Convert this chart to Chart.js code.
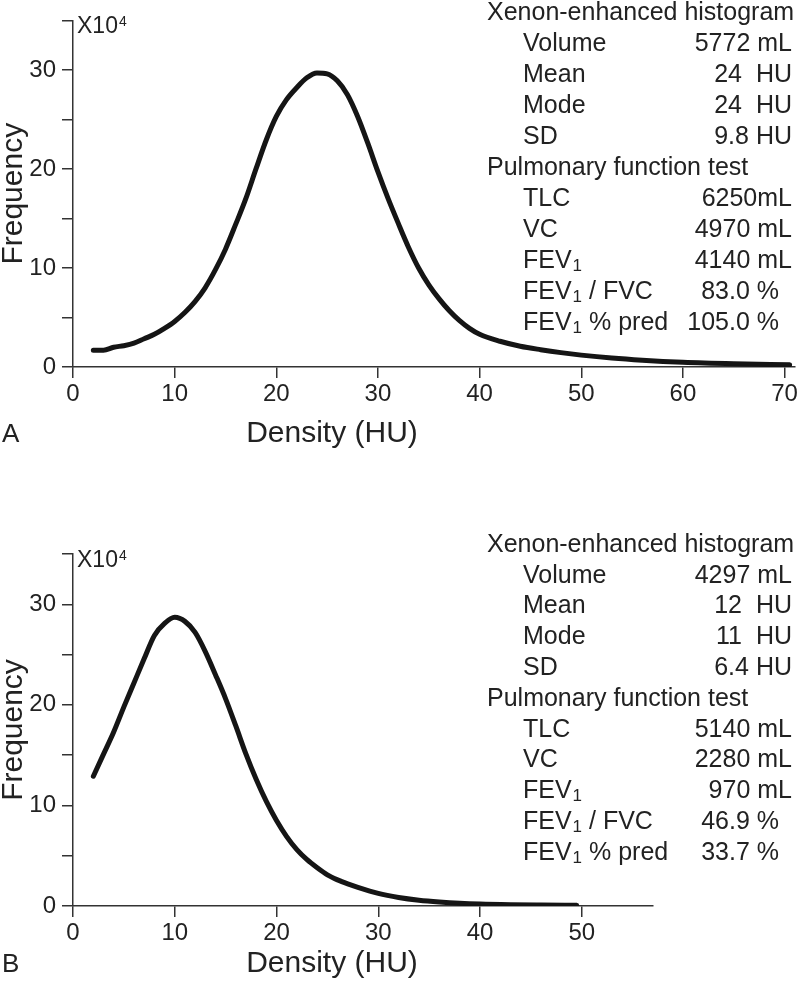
<!DOCTYPE html>
<html>
<head>
<meta charset="utf-8">
<script src="https://cdn.jsdelivr.net/npm/chart.js@4"></script>
<style>
  html, body { margin: 0; padding: 0; background: #fff; }
  #wrap { position: relative; width: 800px; height: 985px; }
  canvas { position: absolute; left: 0; }
</style>
</head>
<body>
<div id="wrap">
  <canvas id="chartA" width="800" height="490" style="top:0"></canvas>
  <canvas id="chartB" width="800" height="495" style="top:490px"></canvas>
</div>
<script>
// Xenon-enhanced CT density histograms, panels A and B

const densityA = [2, 3, 4, 5, 6, 7, 8, 9, 10, 11, 12, 13, 14, 15, 16, 17, 18, 19, 20,
  21, 22, 23, 24, 25, 26, 27, 28, 29, 30, 31, 32, 33, 34, 35, 36, 37, 38, 39, 40,
  42, 44, 46, 48, 50, 53, 56, 60, 65, 70.5];
const frequencyA = [1.7, 1.7, 2.0, 2.15, 2.4, 2.85, 3.3, 3.9, 4.6, 5.5, 6.6, 8.0, 9.8, 11.9,
  14.4, 17.0, 20.0, 22.9, 25.3, 27.0, 28.2, 29.2, 29.7, 29.6, 28.9, 27.5, 25.3, 22.6,
  19.7, 17.0, 14.5, 12.1, 10.0, 8.3, 6.9, 5.7, 4.7, 3.9, 3.3, 2.6, 2.1, 1.75, 1.45,
  1.2, 0.9, 0.68, 0.47, 0.32, 0.22];

const densityB = [2, 3, 4, 5, 6, 7, 8, 9, 10, 11, 12, 13, 14, 15, 16, 17, 18, 19, 20,
  21, 22, 23, 24, 25, 26, 27, 28, 30, 32, 34, 36, 38, 40, 43, 46, 49.5];
const frequencyB = [12.9, 15.1, 17.3, 19.8, 22.2, 24.6, 26.9, 28.1, 28.7, 28.3, 27.2, 25.3,
  23.0, 20.6, 17.9, 15.1, 12.6, 10.4, 8.5, 6.9, 5.6, 4.6, 3.8, 3.1, 2.6, 2.2, 1.85,
  1.25, 0.85, 0.58, 0.4, 0.27, 0.19, 0.13, 0.1, 0.08];

const histogramTitle = 'Xenon-enhanced histogram';
const histogramLabels = ['Volume', 'Mean', 'Mode', 'SD'];
const histogramValuesA = ['5772 mL', '24  HU', '24  HU', '9.8 HU'];
const histogramValuesB = ['4297 mL', '12  HU', '11  HU', '6.4 HU'];

const pftTitle = 'Pulmonary function test';
const pftLabels = ['TLC', 'VC', 'FEV_1', 'FEV_1 / FVC', 'FEV_1 % pred'];
const pftValuesA = ['6250mL', '4970 mL', '4140 mL', '83.0 %', '105.0 %'];
const pftValuesB = ['5140 mL', '2280 mL', '970 mL', '46.9 %', '33.7 %'];

const xTitle = 'Density (HU)';
const yTitle = 'Frequency';
const xMaxA = 71;
const xMaxB = 57;
const yMax = 35;

const FONT = "'Liberation Sans', Arial, Helvetica, sans-serif";
const INK = '#222';

Chart.defaults.font.family = FONT;
Chart.defaults.color = INK;

// draws "FEV_1" style text with a subscript digit
function drawRich(ctx, text, x, y, size) {
  const parts = text.split('_');
  let cx = x;
  parts.forEach((part, i) => {
    let body = part;
    if (i > 0) {
      const sub = part.charAt(0);
      body = part.slice(1);
      ctx.font = `${Math.round(size * 0.66)}px ${FONT}`;
      ctx.fillText(sub, cx + 1, y + size * 0.2);
      cx += ctx.measureText(sub).width + 1;
    }
    ctx.font = `${size}px ${FONT}`;
    ctx.fillText(body, cx, y);
    cx += ctx.measureText(body).width;
  });
}

const panelText = {
  id: 'panelText',
  afterDatasetsDraw(chart, args, opts) {
    const { ctx, chartArea } = chart;
    ctx.save();
    ctx.fillStyle = INK;
    ctx.textAlign = 'left';

    // axis multiplier
    ctx.textBaseline = 'alphabetic';
    ctx.font = `23px ${FONT}`;
    const ex = chartArea.left + 4;
    const ey = chartArea.top + 13;
    ctx.fillText('X10', ex, ey);
    const w = ctx.measureText('X10').width;
    ctx.font = `14px ${FONT}`;
    ctx.fillText('4', ex + w + 1, ey - 7);

    // panel letter and x-axis title (title sits left of the axis centre)
    ctx.textBaseline = 'middle';
    ctx.font = `26px ${FONT}`;
    ctx.fillText(opts.letter, 2, opts.letterY);
    ctx.textAlign = 'center';
    ctx.font = `30px ${FONT}`;
    ctx.fillText(xTitle, 332, opts.letterY - 1);

    // statistics table
    const size = 25;
    let row = 0;
    const rowY = () => opts.top + row * opts.step;
    const drawBlock = (title, labels, values) => {
      ctx.textAlign = 'left';
      ctx.font = `${size}px ${FONT}`;
      ctx.fillText(title, 487, rowY());
      row += 1;
      labels.forEach((label, i) => {
        ctx.textAlign = 'left';
        drawRich(ctx, label, 523, rowY(), size);
        ctx.textAlign = 'right';
        ctx.font = `${size}px ${FONT}`;
        const right = values[i].endsWith('%') ? 779 : 792;
        ctx.fillText(values[i], right, rowY());
        row += 1;
      });
    };
    drawBlock(histogramTitle, histogramLabels, opts.histValues);
    drawBlock(pftTitle, pftLabels, opts.pftValues);
    ctx.restore();
  },
};

function makeChart(id, xs, ys, xMax, cfg) {
  const canvas = document.getElementById(id);
  const points = xs.map((x, i) => ({ x, y: ys[i] }));
  return new Chart(canvas.getContext('2d'), {
    type: 'line',
    data: {
      datasets: [{
        data: points,
        borderColor: '#151515',
        borderWidth: 5,
        borderCapStyle: 'round',
        pointRadius: 0,
        cubicInterpolationMode: 'monotone',
        fill: false,
      }],
    },
    options: {
      responsive: false,
      animation: false,
      devicePixelRatio: 1,
      layout: { padding: { top: cfg.padTop, right: cfg.padRight, left: 0, bottom: 0 } },
      plugins: {
        legend: { display: false },
        tooltip: { enabled: false },
        panelText: cfg.text,
      },
      scales: {
        x: {
          type: 'linear',
          min: 0,
          max: xMax,
          border: { display: true, color: '#333', width: 1.5 },
          grid: { drawOnChartArea: false, drawTicks: true, tickLength: 11, color: '#333', lineWidth: 1.5 },
          ticks: {
            stepSize: 10, includeBounds: false, padding: 2, maxRotation: 0,
            font: { size: 24 }, color: INK,
          },
          afterFit(scale) { scale.height = cfg.xHeight; },
        },
        y: {
          min: 0,
          max: yMax,
          border: { display: true, color: '#333', width: 1.5 },
          grid: { drawOnChartArea: false, drawTicks: true, tickLength: 11, color: '#333', lineWidth: 1.5 },
          ticks: {
            stepSize: 5,
            padding: 6,
            font: { size: 24 },
            color: INK,
            callback: (v) => (v % 10 === 0 ? v : ''),
          },
          title: {
            display: true,
            text: yTitle,
            font: { size: 30, lineHeight: 1 },
            color: INK,
            padding: { top: -1, bottom: 0 },
          },
          afterFit(scale) { scale.width = 73; },
        },
      },
    },
    plugins: [panelText],
  });
}

makeChart('chartA', densityA, frequencyA, xMaxA, {
  padTop: 16,
  padRight: 5,
  xHeight: 123,
  text: {
    letter: 'A', letterY: 435, top: 13, step: 31,
    histValues: histogramValuesA, pftValues: pftValuesA,
  },
});

makeChart('chartB', densityB, frequencyB, xMaxB, {
  padTop: 64,
  padRight: 147,
  xHeight: 79,
  text: {
    letter: 'B', letterY: 475, top: 55, step: 30.8,
    histValues: histogramValuesB, pftValues: pftValuesB,
  },
});
</script>
</body>
</html>
